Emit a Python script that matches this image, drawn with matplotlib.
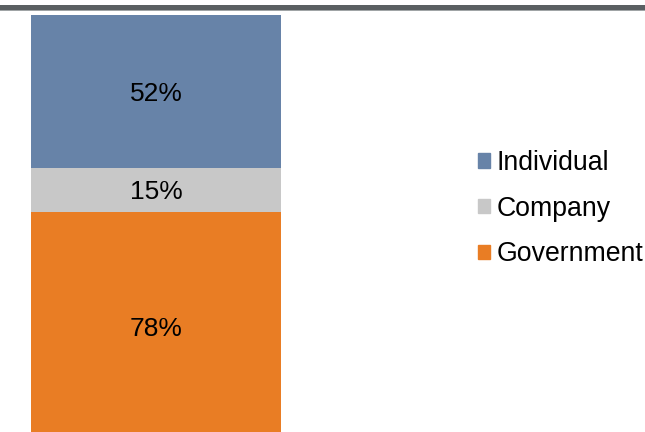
import matplotlib.pyplot as plt
from matplotlib.patches import Patch

plt.rcParams['font.family'] = ['Liberation Sans', 'DejaVu Sans']

# stacked shares, bottom to top
segments = ['Government', 'Company', 'Individual']
values = [78, 15, 52]
colors = ['#e97d24', '#c8c8c8', '#6783a8']

fig = plt.figure(figsize=(6.45, 4.32), dpi=100)
W, H = 645, 432

# axes spans from bar top (y=15px) down past the bottom edge
ax = fig.add_axes([0, 0, 1, (H - 15) / H])
total = sum(values)
ax.set_ylim(3.2, total)
ax.set_xlim(0, W)

bottom = 0
for name, v, c in zip(segments, values, colors):
    ax.bar(156, v, width=250, bottom=bottom, color=c, label=name)
    ax.text(156, bottom + v / 2, f'{v}%', ha='center', va='center_baseline',
            fontsize=19, color='black')
    bottom += v

ax.axis('off')

# header rule at the top
fig.add_artist(plt.Rectangle((0, 1 - 10 / H), 1, 5 / H, transform=fig.transFigure,
                             color='#5a5f62', lw=0))
fig.add_artist(plt.Rectangle((0, 1 - 11 / H), 1, 1.5 / H, transform=fig.transFigure,
                             color='#a0a4a6', lw=0))

handles = [Patch(color=c) for c in colors[::-1]]
fig.legend(handles, segments[::-1], loc='upper left', bbox_to_anchor=(478 / W, 1 - 150 / H),
           frameon=False, fontsize=19.2, handlelength=0.45, handleheight=0.45,
           handletextpad=0.26, labelspacing=0.74, borderaxespad=0, borderpad=0)

fig.savefig('out.png', dpi=100)
